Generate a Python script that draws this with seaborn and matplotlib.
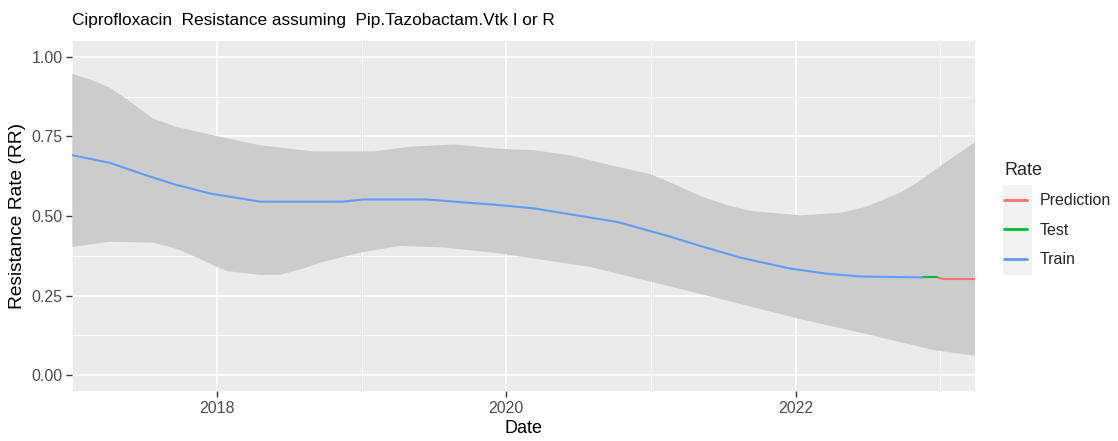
import numpy as np
import pandas as pd
import matplotlib
matplotlib.use("Agg")
import matplotlib.pyplot as plt
import seaborn as sns
from matplotlib.patches import Rectangle


# Data (decimal years)

train_year = [2017.0, 2017.26, 2017.49, 2017.71, 2017.95, 2018.3, 2018.87,
              2019.01, 2019.45, 2019.73, 2019.96, 2020.19, 2020.77, 2021.12,
              2021.34, 2021.62, 2021.96, 2022.21, 2022.44, 2022.88]
train_rate = [0.691, 0.667, 0.631, 0.599, 0.571, 0.545, 0.545,
              0.552, 0.552, 0.542, 0.534, 0.524, 0.481, 0.437,
              0.406, 0.369, 0.335, 0.319, 0.310, 0.307]

test_year = [2022.88, 2022.98]
test_rate = [0.307, 0.307]

pred_year = [2022.98, 2023.02, 2023.24]
pred_rate = [0.307, 0.302, 0.302]

upper_year = [2017.0, 2017.13, 2017.26, 2017.38, 2017.47, 2017.56, 2017.72,
              2018.0, 2018.3, 2018.67, 2019.08, 2019.34, 2019.64, 2019.96,
              2020.19, 2020.45, 2020.65, 2021.0, 2021.17, 2021.34, 2021.52,
              2021.69, 2022.03, 2022.31, 2022.48, 2022.61, 2022.73, 2022.84,
              2023.0, 2023.24]
upper_rate = [0.947, 0.928, 0.903, 0.866, 0.835, 0.806, 0.780,
              0.751, 0.722, 0.703, 0.703, 0.718, 0.725, 0.711,
              0.707, 0.690, 0.667, 0.631, 0.598, 0.563, 0.535,
              0.516, 0.502, 0.510, 0.528, 0.552, 0.575, 0.605,
              0.657, 0.732]

lower_year = [2017.0, 2017.26, 2017.56, 2017.72, 2017.84, 2017.96, 2018.07,
              2018.3, 2018.44, 2018.58, 2018.72, 2018.99, 2019.26, 2019.57,
              2019.96, 2020.58, 2021.12, 2021.58, 2022.03, 2022.49, 2022.95,
              2023.24]
lower_rate = [0.403, 0.419, 0.416, 0.397, 0.374, 0.348, 0.327,
              0.315, 0.315, 0.333, 0.354, 0.385, 0.406, 0.401,
              0.382, 0.340, 0.280, 0.228, 0.176, 0.129, 0.079,
              0.061]

rate_names = ["Prediction", "Test", "Train"]
rate_colors = ["#F8766D", "#00BA38", "#619CFF"]

x_ticks = [2018, 2020, 2022]
y_ticks = [0.0, 0.25, 0.5, 0.75, 1.0]


# Build long table

df = pd.concat([
    pd.DataFrame({"Date": train_year, "RR": train_rate, "Rate": "Train"}),
    pd.DataFrame({"Date": test_year, "RR": test_rate, "Rate": "Test"}),
    pd.DataFrame({"Date": pred_year, "RR": pred_rate, "Rate": "Prediction"}),
], ignore_index=True)


# Style (ggplot grey theme look)

sns.set_theme(style="darkgrid", rc={
    "axes.facecolor": "#EBEBEB",
    "grid.color": "white",
    "axes.edgecolor": "#EBEBEB",
})
plt.rcParams["font.family"] = ["Liberation Sans", "DejaVu Sans"]

fig = plt.figure(figsize=(11.18, 4.41), dpi=100)
ax = fig.add_axes([72.3 / 1118, 1 - 391 / 441, (975 - 72.3) / 1118, 350 / 441])
ax.set_zorder(1)

# confidence band
band_x = np.concatenate([upper_year, lower_year[::-1]])
band_y = np.concatenate([upper_rate, lower_rate[::-1]])
ax.fill(band_x, band_y, color="#CCCCCC", linewidth=0, zorder=2)

sns.lineplot(
    data=df,
    x="Date",
    y="RR",
    hue="Rate",
    hue_order=rate_names,
    palette=rate_colors,
    linewidth=1.5,
    sort=False,
    estimator=None,
    ax=ax,
    zorder=3
)

ax.set_xlim(2017.0, 2023.24)
ax.set_ylim(-0.05, 1.05)

ax.set_xticks(x_ticks)
ax.set_xticklabels([str(t) for t in x_ticks])
ax.set_xticks([2017, 2019, 2021, 2023], minor=True)
ax.set_yticks(y_ticks)
ax.set_yticklabels([f"{t:.2f}" for t in y_ticks])
ax.set_yticks([0.125, 0.375, 0.625, 0.875], minor=True)

ax.grid(which="major", color="white", linewidth=1.1)
ax.grid(which="minor", color="white", linewidth=0.55)
ax.set_axisbelow(True)

ax.tick_params(axis="both", which="major", length=4, width=1,
               color="#333333", labelcolor="#4D4D4D", labelsize=11.5,
               bottom=True, left=True, pad=3)
ax.tick_params(axis="both", which="minor", length=0)

for spine in ax.spines.values():
    spine.set_visible(False)

ax.set_xlabel("Date", fontsize=13, color="black", labelpad=3)
ax.set_ylabel("Resistance Rate (RR)", fontsize=13.8, color="black", labelpad=4)

fig.text(72 / 1118, 1 - 20 / 441,
         "Ciprofloxacin  Resistance assuming  Pip.Tazobactam.Vtk I or R",
         fontsize=12.4, ha="left", va="center", color="black")

# Legend
handles, labels = ax.get_legend_handles_labels()
leg = ax.legend(
    handles, labels,
    title="Rate",
    loc="upper left",
    bbox_to_anchor=(1004 / 1118, 1 - 162 / 441),
    bbox_transform=fig.transFigure,
    frameon=False,
    fontsize=11.5,
    title_fontsize=13,
    handlelength=1.45,
    handletextpad=0.8,
    labelspacing=0.9,
    borderaxespad=0,
    borderpad=0,
    alignment="left"
)
for line in leg.get_lines():
    line.set_linewidth(2.0)

# grey key background
fig.patches.append(Rectangle((1003 / 1118, 1 - 275 / 441), 28.5 / 1118, 90 / 441,
                             transform=fig.transFigure, facecolor="#F2F2F2",
                             edgecolor="none", zorder=0))

fig.savefig("out.png", dpi=100)
